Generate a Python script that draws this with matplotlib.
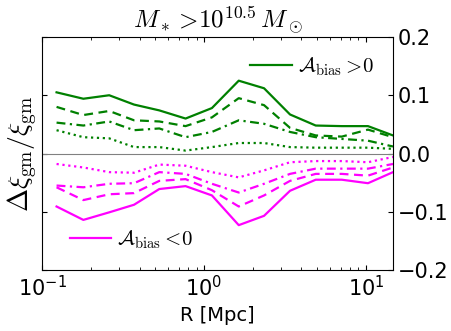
import numpy as np
import matplotlib
matplotlib.use('Agg')
import matplotlib.pyplot as plt

plt.rcParams['mathtext.fontset'] = 'cm'
plt.rcParams['xtick.direction'] = 'in'
plt.rcParams['ytick.direction'] = 'in'

# radius bins [Mpc]
R = [0.123, 0.18, 0.26, 0.37, 0.53, 0.77, 1.12, 1.64, 2.35, 3.4, 4.9, 7.1, 10.3, 14.7]

# A_bias > 0 (green)
pos_solid = [0.105, 0.094, 0.100, 0.084, 0.074, 0.060, 0.078, 0.125, 0.112, 0.067, 0.048, 0.047, 0.047, 0.031]
pos_dash = [0.080, 0.066, 0.073, 0.057, 0.055, 0.047, 0.062, 0.095, 0.083, 0.044, 0.031, 0.029, 0.041, 0.028]
pos_dashdot = [0.053, 0.048, 0.055, 0.040, 0.043, 0.028, 0.037, 0.057, 0.051, 0.037, 0.028, 0.025, 0.022, 0.012]
pos_dot = [0.040, 0.028, 0.026, 0.011, 0.011, 0.005, 0.011, 0.018, 0.018, 0.011, 0.010, 0.010, 0.010, 0.008]

# A_bias < 0 (magenta)
neg_solid = [-0.091, -0.114, -0.101, -0.088, -0.061, -0.056, -0.072, -0.123, -0.107, -0.064, -0.045, -0.045, -0.051, -0.032]
neg_dash = [-0.058, -0.080, -0.070, -0.068, -0.047, -0.044, -0.063, -0.091, -0.072, -0.047, -0.035, -0.035, -0.038, -0.024]
neg_dashdot = [-0.055, -0.058, -0.052, -0.051, -0.032, -0.035, -0.052, -0.067, -0.052, -0.035, -0.026, -0.026, -0.026, -0.018]
neg_dot = [-0.018, -0.024, -0.032, -0.033, -0.019, -0.021, -0.032, -0.041, -0.029, -0.015, -0.013, -0.013, -0.015, -0.006]

fig = plt.figure(figsize=(4.52, 3.31), dpi=100)
ax = fig.add_axes([42 / 452, 1 - 270 / 331, 351 / 452, 233 / 331])

lw = 1.6
ax.axhline(0, color='gray', lw=0.8)
l1, = ax.plot(R, pos_solid, color='green', lw=lw, ls='-')
ax.plot(R, pos_dash, color='green', lw=lw, ls=(0, (4, 2.5)))
ax.plot(R, pos_dashdot, color='green', lw=lw, ls=(0, (4, 2, 1, 2)))
ax.plot(R, pos_dot, color='green', lw=lw, ls=':')
l2, = ax.plot(R, neg_solid, color='magenta', lw=lw, ls='-')
ax.plot(R, neg_dash, color='magenta', lw=lw, ls=(0, (4, 2.5)))
ax.plot(R, neg_dashdot, color='magenta', lw=lw, ls=(0, (4, 2, 1, 2)))
ax.plot(R, neg_dot, color='magenta', lw=lw, ls=':')

ax.set_xscale('log')
ax.set_xlim(0.1, 14.7)
ax.set_ylim(-0.2, 0.2)
ax.set_yticks([-0.2, -0.1, 0.0, 0.1, 0.2])
ax.yaxis.tick_right()
ax.yaxis.set_ticks_position('both')
ax.xaxis.set_ticks_position('both')
ax.tick_params(labelsize=15, labelleft=False, labelright=True)
ax.set_ylabel(r'$\Delta\xi_{\rm gm}/\xi_{\rm gm}$', fontsize=20, labelpad=2)
ax.yaxis.set_label_position('left')
ax.set_xlabel('R [Mpc]', fontsize=14)
ax.set_title(r'$M_*>\!10^{10.5}\,M_\odot$', fontsize=18, pad=4)

leg1 = ax.legend([l1], [r'$\mathcal{A}_{\rm bias}>\!0$'], loc='upper right', frameon=False,
                 fontsize=15, handletextpad=0.3)
ax.add_artist(leg1)
ax.legend([l2], [r'$\mathcal{A}_{\rm bias}<\!0$'], loc='lower left', frameon=False,
          fontsize=15, handletextpad=0.3, bbox_to_anchor=(0.025, 0.0))

fig.savefig('out.png', dpi=100)
